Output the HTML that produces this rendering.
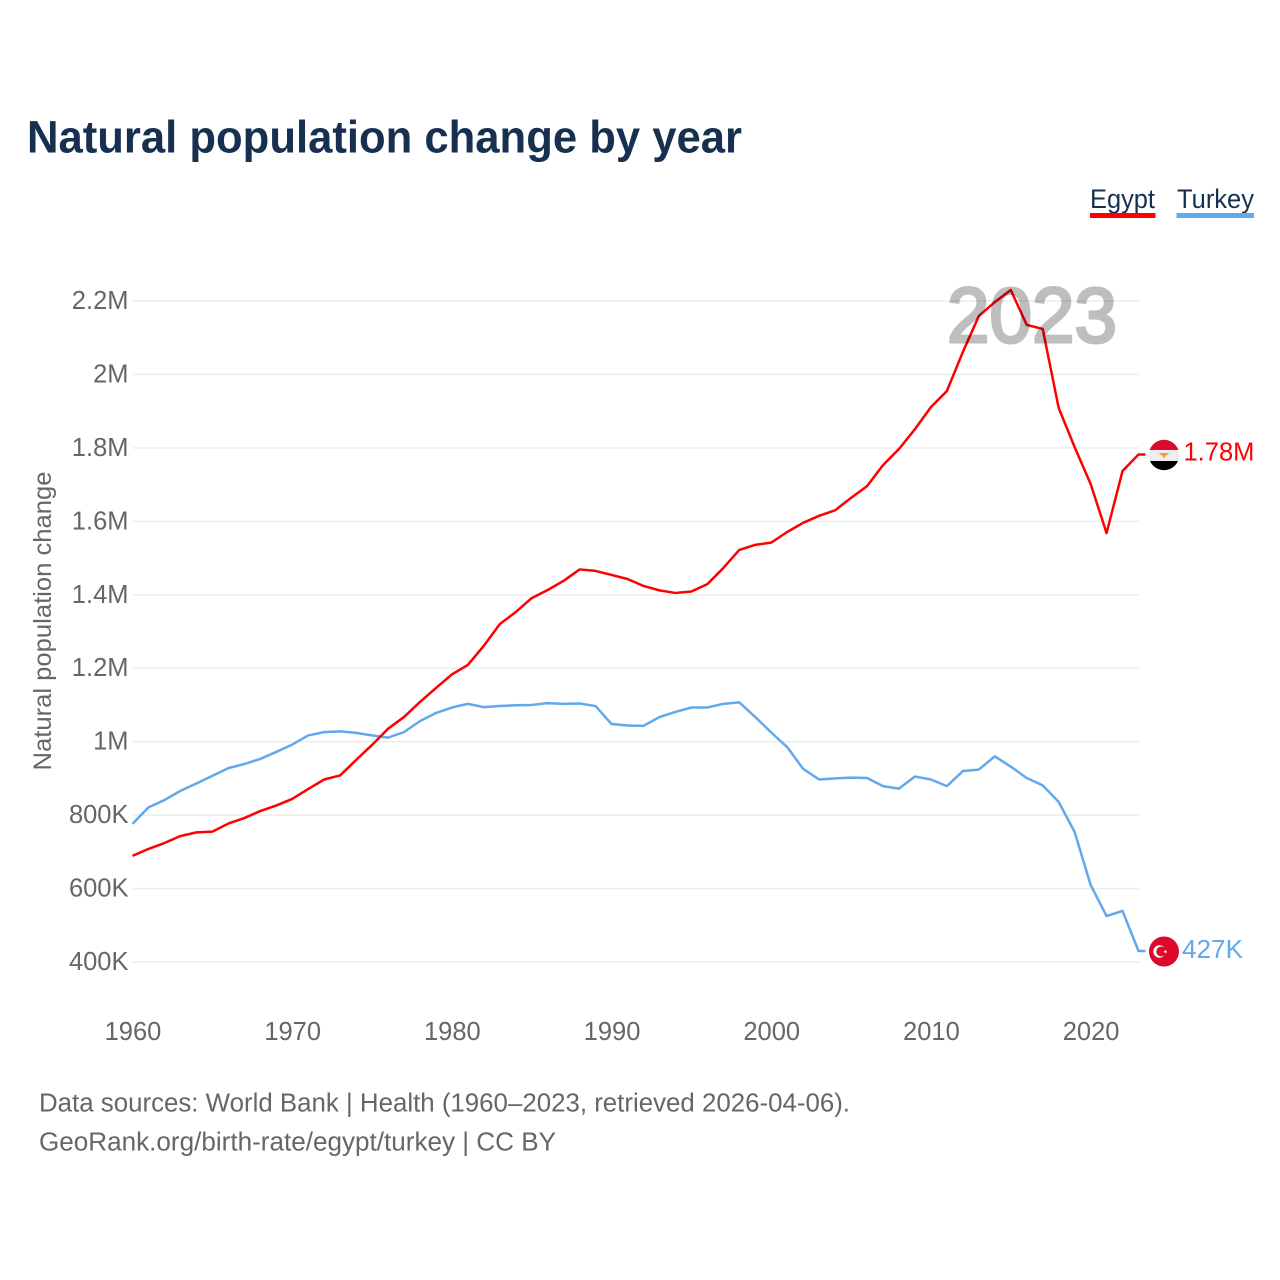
<!DOCTYPE html>
<html lang="en">
<head>
<meta charset="utf-8">
<title>Natural population change by year</title>
<style>
html,body{margin:0;padding:0;background:#fff;width:1280px;height:1280px;overflow:hidden}
svg{display:block;font-family:"Liberation Sans",sans-serif}
</style>
</head>
<body>
<svg id="chart" xmlns="http://www.w3.org/2000/svg" width="1280" height="1280" viewBox="0 0 1280 1280">
  <defs>
    <clipPath id="egypt-clip"><circle cx="1164" cy="455" r="15.2"/></clipPath>
  </defs>
  <rect width="1280" height="1280" fill="#fff"/>
  <text x="27" y="152.500" font-size="45" font-weight="700" fill="#17304f" textLength="715" lengthAdjust="spacingAndGlyphs">Natural population change by year</text>

  <g>
    <g>
      <text x="1090" y="208" font-size="27" fill="#17304f" textLength="65" lengthAdjust="spacingAndGlyphs">Egypt</text>
      <rect x="1090" y="213" width="65.5" height="5" fill="#ff0000"/>
    </g>
    <g>
      <text x="1177" y="208" font-size="27" fill="#17304f" textLength="77" lengthAdjust="spacingAndGlyphs">Turkey</text>
      <rect x="1176.500" y="213" width="77.5" height="5" fill="#62a8ec"/>
    </g>
  </g>

  <g id="grid"></g>
  <g id="yticks"></g>
  <g id="xticks"></g>
  <text transform="translate(51 621) rotate(-90)" text-anchor="middle" font-size="25" fill="#666" textLength="299" lengthAdjust="spacingAndGlyphs">Natural population change</text>
  <g id="series"></g>

  <text x="947" y="342" font-size="78" font-weight="400" fill="#000" stroke="#000" stroke-width="3" opacity="0.25" textLength="170" lengthAdjust="spacingAndGlyphs">2023</text>

  <g clip-path="url(#egypt-clip)">
    <rect x="1148" y="439" width="32" height="11" fill="#dc0a2c"/>
    <rect x="1148" y="450" width="32" height="11" fill="#eeeeee"/>
    <rect x="1148" y="461" width="32" height="11" fill="#000"/>
    <path d="M1158.500 453h11l-3.500 2.500-2 2.500-2-2.500z" fill="#f59c2a"/>
  </g>
  <g>
    <circle cx="1164" cy="951.500" r="15" fill="#dc0a2c"/>
    <circle cx="1159.500" cy="951.500" r="6.200" fill="#fff"/>
    <circle cx="1161.300" cy="951.500" r="5" fill="#dc0a2c"/>
    <path d="M1165.200 949.500l.6 1.400 1.500-.1-1 1 .6 1.400-1.300-.7-1.100 1 .2-1.500-1.300-.7 1.500-.3z" fill="#fff"/>
  </g>
  <text id="label-egypt" x="1183.500" y="460.500" font-size="25.500" fill="#ff0000">1.78M</text>
  <text id="label-turkey" x="1182" y="958" font-size="25.500" fill="#62a8ec" textLength="61" lengthAdjust="spacingAndGlyphs">427K</text>

  <text x="39" y="1111.500" font-size="25.500" fill="#666" textLength="811" lengthAdjust="spacingAndGlyphs">Data sources: World Bank | Health (1960–2023, retrieved 2026-04-06).</text>
  <text x="39" y="1150.500" font-size="25.500" fill="#666" textLength="517" lengthAdjust="spacingAndGlyphs">GeoRank.org/birth-rate/egypt/turkey | CC BY</text>
</svg>
<script>
const startYear = 1960;
const egyptValues = [689,708,724,743,753,755,777,792,811,826,844,871,897,908,950,991,1035,1067,1108,1146,1183,1209,1261,1320,1353,1391,1413,1438,1469,1465,1454,1443,1424,1412,1405,1409,1429,1473,1522,1536,1542,1571,1596,1615,1630,1664,1696,1753,1797,1851,1911,1955,2061,2159,2197,2230,2135,2124,1909,1802,1702,1568,1737,1782];
const turkeyValues = [776,821,841,866,886,907,928,939,953,972,992,1017,1026,1028,1024,1017,1011,1026,1056,1078,1093,1103,1094,1097,1099,1100,1105,1103,1104,1097,1048,1044,1043,1067,1081,1093,1093,1103,1107,1067,1025,985,926,897,900,902,901,879,872,905,897,879,920,924,960,932,901,881,836,754,610,525,539,430];
const yTickValues = [400,600,800,1000,1200,1400,1600,1800,2000,2200];
const yTickLabels = ['400K','600K','800K','1M','1.2M','1.4M','1.6M','1.8M','2M','2.2M'];
const xTickYears = [1960,1970,1980,1990,2000,2010,2020];

const NS = 'http://www.w3.org/2000/svg';
function xScale(year){ return 132.5 + (year - 1960) * (1138.5 - 132.5) / 63; }
function yScale(k){ return 962 - (k - 400) * (962 - 301) / 1800; }

const grid = document.getElementById('grid');
const yticks = document.getElementById('yticks');
const xticks = document.getElementById('xticks');
const series = document.getElementById('series');

yTickValues.forEach(function(v, i){
  const line = document.createElementNS(NS, 'line');
  
  
  line.setAttribute('x1', 133);
  line.setAttribute('x2', 1139);
  line.setAttribute('y1', yScale(v));
  line.setAttribute('y2', yScale(v));
  line.setAttribute('stroke', '#ebebeb');
  line.setAttribute('stroke-width', 1.4);
  grid.appendChild(line);

  const t = document.createElementNS(NS, 'text');
  
  
  t.setAttribute('x', 128.5);
  t.setAttribute('y', yScale(v) + 8);
  t.setAttribute('text-anchor', 'end');
  t.setAttribute('font-size', 25.5);
  t.setAttribute('fill', '#666');
  t.textContent = yTickLabels[i];
  yticks.appendChild(t);
});

xTickYears.forEach(function(y){
  const t = document.createElementNS(NS, 'text');
  
  
  t.setAttribute('x', xScale(y) + 0.5);
  t.setAttribute('y', 1040);
  t.setAttribute('text-anchor', 'middle');
  t.setAttribute('font-size', 25.5);
  t.setAttribute('fill', '#666');
  t.textContent = String(y);
  xticks.appendChild(t);
});

function linePoints(values){
  const pts = values.map(function(v, i){
    return xScale(startYear + i).toFixed(2) + ',' + yScale(v).toFixed(2);
  });
  const last = values[values.length - 1];
  pts.push((xScale(startYear + values.length - 1) + 7).toFixed(2) + ',' + yScale(last).toFixed(2));
  return pts.join(' ');
}

const turkeyLine = document.createElementNS(NS, 'polyline');


turkeyLine.setAttribute('points', linePoints(turkeyValues));
turkeyLine.setAttribute('fill', 'none');
turkeyLine.setAttribute('stroke', '#62a8ec');
turkeyLine.setAttribute('stroke-width', 2.5);
turkeyLine.setAttribute('stroke-linejoin', 'round');
series.appendChild(turkeyLine);

const egyptLine = document.createElementNS(NS, 'polyline');


egyptLine.setAttribute('points', linePoints(egyptValues));
egyptLine.setAttribute('fill', 'none');
egyptLine.setAttribute('stroke', '#ff0000');
egyptLine.setAttribute('stroke-width', 2.5);
egyptLine.setAttribute('stroke-linejoin', 'round');
series.appendChild(egyptLine);
</script>
</body>
</html>
